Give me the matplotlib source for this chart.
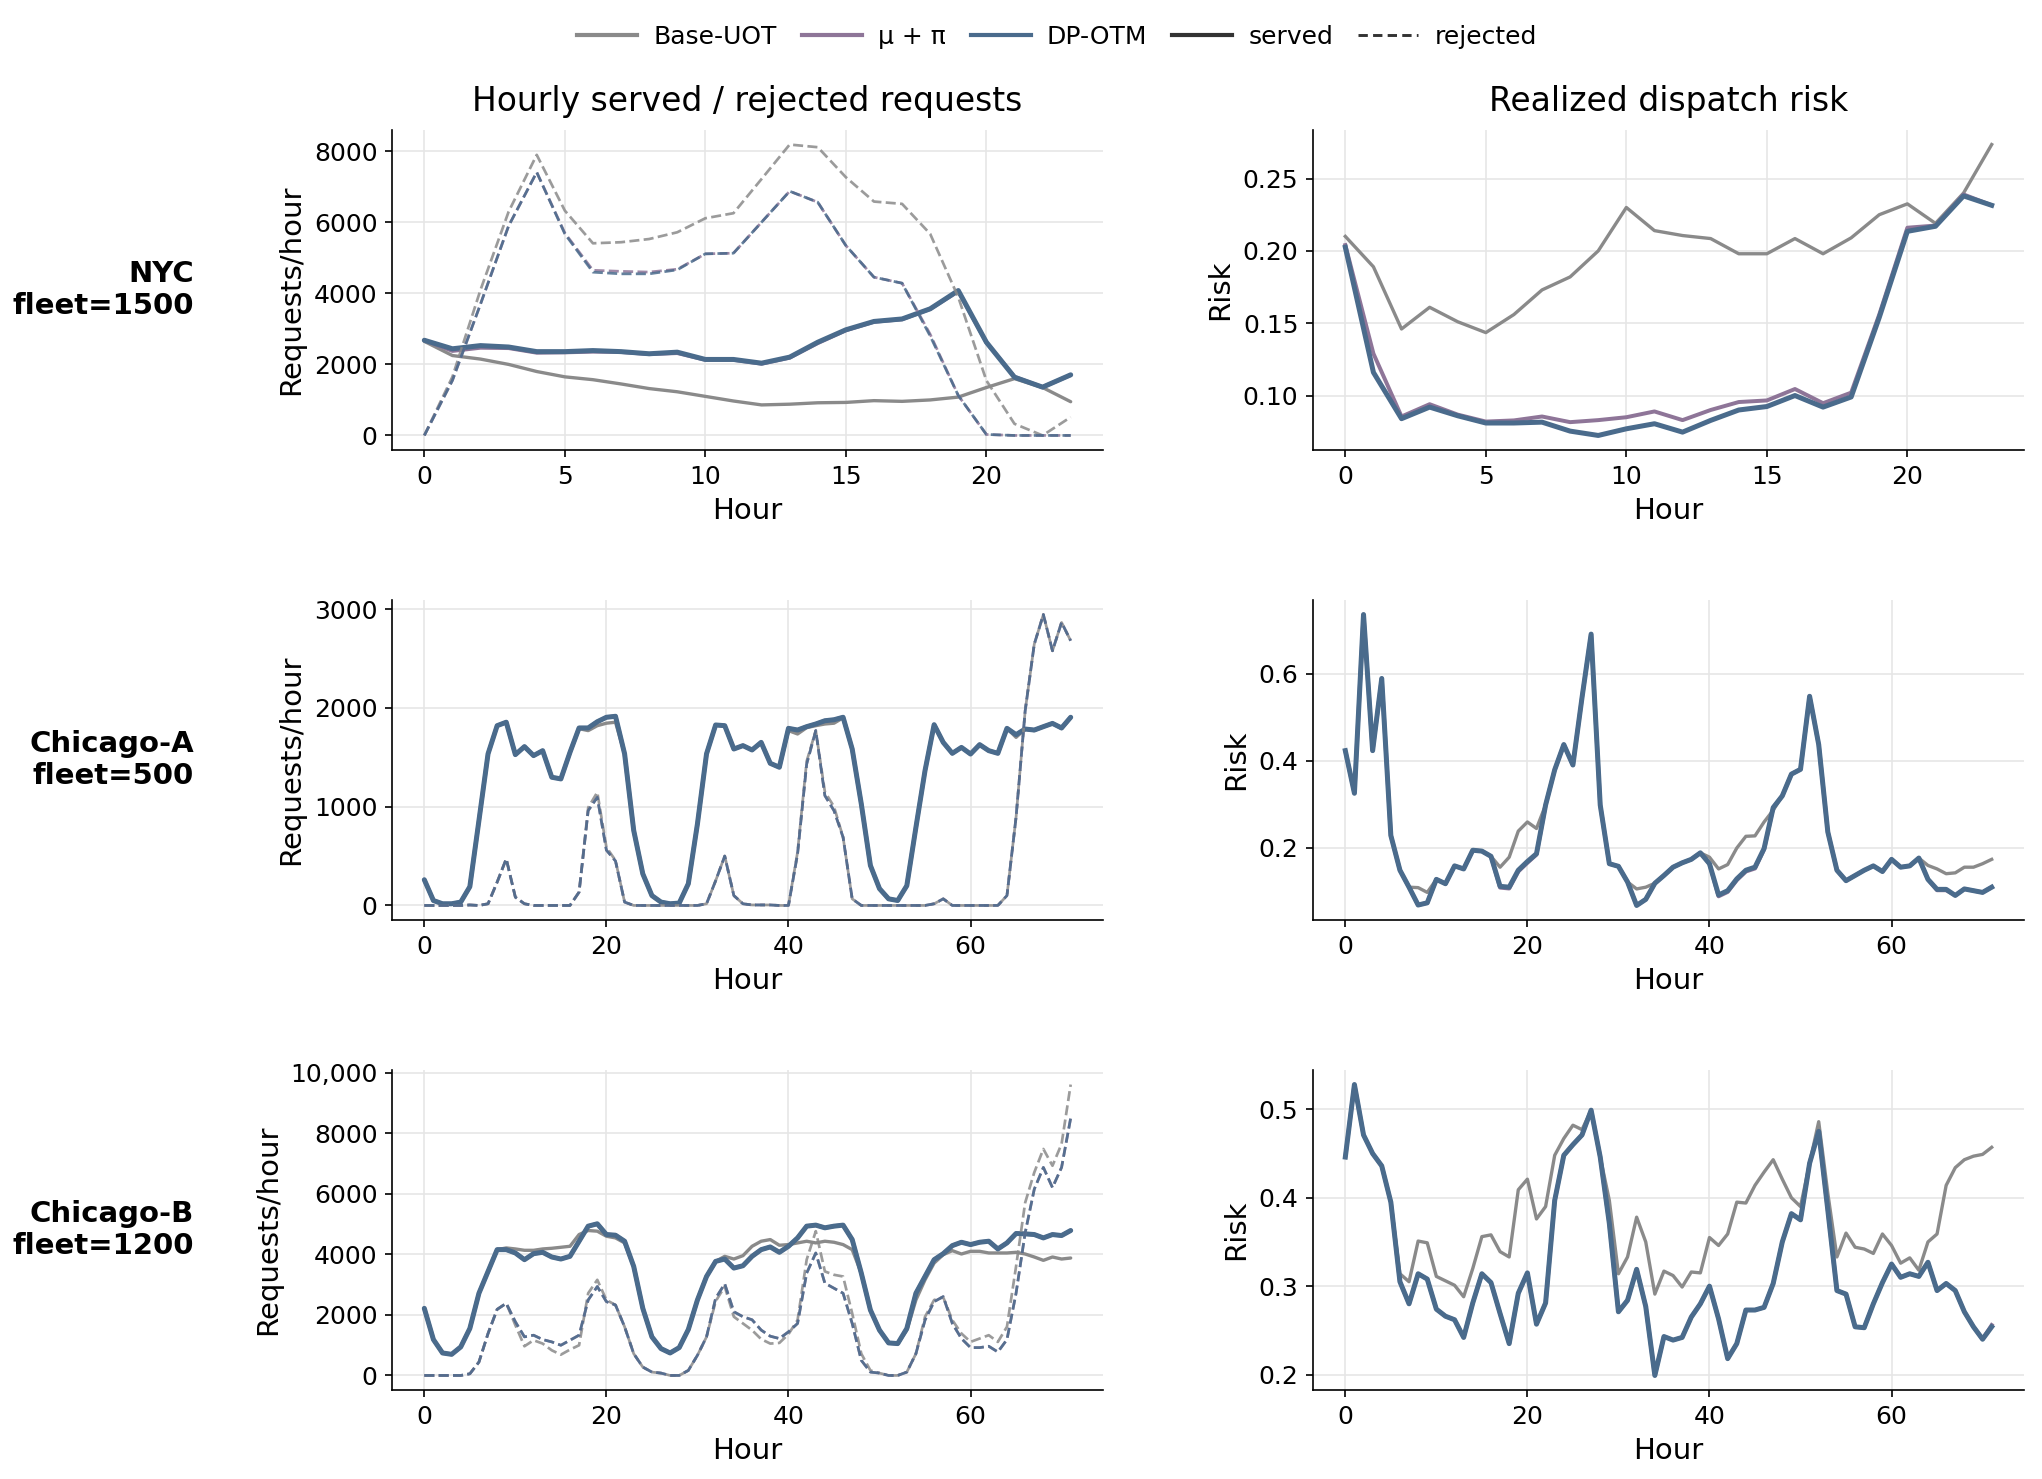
import matplotlib
matplotlib.use("Agg")
import matplotlib.pyplot as plt
from matplotlib.lines import Line2D
from matplotlib.ticker import FuncFormatter, MultipleLocator

# ---------------- data ----------------
methods = ["Base-UOT", "μ + π", "DP-OTM"]
colors = {"Base-UOT": "#8a8a8a", "μ + π": "#8e7598", "DP-OTM": "#4a6b8c"}

row_labels = ["NYC\nfleet=1500", "Chicago-A\nfleet=500", "Chicago-B\nfleet=1200"]
col_titles = ["Hourly served / rejected requests", "Realized dispatch risk"]

hours_nyc = list(range(24))
hours_chi = list(range(72))

# NYC
nyc_base_served = [2650, 2250, 2150, 2000, 1800, 1650, 1570, 1450, 1320, 1230, 1100, 970,
                   860, 880, 920, 930, 980, 960, 1000, 1080, 1350, 1600, 1350, 950]
nyc_mu_served = [2680, 2380, 2470, 2460, 2330, 2340, 2360, 2350, 2290, 2320, 2130, 2130,
                 2020, 2190, 2600, 2960, 3200, 3270, 3560, 4060, 2620, 1650, 1360, 1700]
nyc_dp_served = [2680, 2440, 2530, 2490, 2360, 2360, 2390, 2360, 2300, 2345, 2140, 2140,
                 2035, 2205, 2625, 2975, 3210, 3280, 3565, 4080, 2625, 1640, 1360, 1707]
nyc_base_rej = [0, 1650, 4100, 6300, 7900, 6330, 5410, 5440, 5530, 5720, 6115, 6257,
                7220, 8190, 8115, 7270, 6585, 6520, 5675, 3893, 1548, 328, 0, 516]
nyc_mu_rej = [0, 1550, 3700, 5900, 7410, 5700, 4650, 4620, 4600, 4680, 5113, 5131,
              6004, 6876, 6567, 5347, 4456, 4287, 2850, 1126, 28, 0, 0, 0]
nyc_dp_rej = [0, 1550, 3700, 5900, 7410, 5675, 4597, 4550, 4550, 4662, 5113, 5131,
              6004, 6876, 6567, 5347, 4456, 4287, 2800, 1126, 28, 0, 0, 0]
nyc_base_risk = [0.210, 0.189, 0.146, 0.161, 0.151, 0.1435, 0.156, 0.173, 0.182, 0.200, 0.230, 0.214,
                 0.2106, 0.2085, 0.198, 0.198, 0.2085, 0.198, 0.209, 0.225, 0.2325, 0.219, 0.240, 0.2735]
nyc_mu_risk = [0.204, 0.129, 0.0855, 0.094, 0.0868, 0.082, 0.0828, 0.0855, 0.0816, 0.083, 0.085, 0.089,
               0.083, 0.090, 0.0955, 0.0966, 0.1045, 0.0947, 0.102, 0.156, 0.216, 0.2175, 0.239, 0.2315]
nyc_dp_risk = [0.2025, 0.116, 0.084, 0.092, 0.086, 0.081, 0.081, 0.0816, 0.0754, 0.0724, 0.077, 0.0805,
               0.0747, 0.0828, 0.090, 0.0924, 0.100, 0.092, 0.099, 0.154, 0.2135, 0.217, 0.238, 0.2315]

# Chicago-A
chia_base_served = [260, 50, 17, 17, 34, 190, 860, 1535, 1820, 1855,
                    1527, 1608, 1517, 1567, 1298, 1281, 1550, 1790, 1770, 1820,
                    1845, 1855, 1535, 760, 320, 100, 34, 17, 24, 220,
                    825, 1535, 1827, 1820, 1584, 1618, 1574, 1651, 1439, 1399,
                    1770, 1736, 1800, 1820, 1837, 1845, 1900, 1584, 1028, 405,
                    170, 67, 50, 200, 790, 1365, 1830, 1651, 1540, 1600,
                    1533, 1628, 1567, 1540, 1793, 1702, 1786, 1770, 1810, 1843,
                    1790, 1900]
chia_mu_served = [260, 50, 17, 17, 34, 190, 860, 1535, 1820, 1855,
                  1527, 1608, 1517, 1567, 1298, 1281, 1550, 1797, 1797, 1860,
                  1905, 1915, 1535, 760, 320, 100, 34, 17, 24, 220,
                  825, 1535, 1827, 1820, 1584, 1618, 1574, 1651, 1439, 1399,
                  1793, 1776, 1810, 1837, 1870, 1880, 1905, 1584, 1028, 405,
                  170, 67, 50, 200, 790, 1365, 1830, 1651, 1540, 1600,
                  1533, 1628, 1567, 1540, 1793, 1729, 1786, 1776, 1810, 1843,
                  1797, 1905]
chia_dp_served = [260, 50, 17, 17, 34, 190, 860, 1535, 1820, 1855,
                  1527, 1608, 1517, 1567, 1298, 1281, 1550, 1797, 1797, 1860,
                  1905, 1915, 1535, 760, 320, 100, 34, 17, 24, 220,
                  825, 1535, 1827, 1820, 1584, 1618, 1574, 1651, 1439, 1399,
                  1793, 1776, 1810, 1837, 1870, 1880, 1905, 1584, 1028, 405,
                  170, 67, 50, 200, 790, 1365, 1830, 1651, 1540, 1600,
                  1533, 1628, 1567, 1540, 1793, 1729, 1786, 1776, 1810, 1843,
                  1797, 1905]
chia_base_rej = [0, 0, 0, 0, 0, 5, 0, 17, 236, 472,
                 84, 17, 0, 0, 0, 0, 0, 135, 990, 1146,
                 590, 455, 34, 0, 0, 0, 0, 0, 0, 0,
                 0, 17, 250, 500, 100, 17, 5, 5, 5, 0,
                 0, 540, 1460, 1770, 1150, 1000, 690, 67, 0, 0,
                 0, 0, 0, 0, 0, 0, 17, 67, 0, 0,
                 0, 0, 0, 0, 100, 893, 1970, 2645, 2945, 2578,
                 2865, 2680]
chia_mu_rej = [0, 0, 0, 0, 0, 5, 0, 17, 236, 472,
               84, 17, 0, 0, 0, 0, 0, 135, 960, 1095,
               560, 450, 34, 0, 0, 0, 0, 0, 0, 0,
               0, 17, 250, 500, 100, 17, 5, 5, 5, 0,
               0, 522, 1432, 1770, 1112, 960, 690, 67, 0, 0,
               0, 0, 0, 0, 0, 0, 17, 67, 0, 0,
               0, 0, 0, 0, 100, 893, 1970, 2645, 2945, 2578,
               2865, 2680]
chia_dp_rej = [0, 0, 0, 0, 0, 5, 0, 17, 236, 472,
               84, 17, 0, 0, 0, 0, 0, 135, 960, 1095,
               560, 450, 34, 0, 0, 0, 0, 0, 0, 0,
               0, 17, 250, 500, 100, 17, 5, 5, 5, 0,
               0, 522, 1432, 1770, 1112, 960, 690, 67, 0, 0,
               0, 0, 0, 0, 0, 0, 17, 67, 0, 0,
               0, 0, 0, 0, 100, 893, 1970, 2645, 2945, 2578,
               2865, 2680]
chia_base_risk = [0.423, 0.325, 0.736, 0.423, 0.589, 0.228, 0.148, 0.109, 0.108, 0.097,
                  0.127, 0.117, 0.158, 0.151, 0.194, 0.192, 0.180, 0.155, 0.178, 0.238,
                  0.259, 0.244, 0.298, 0.379, 0.437, 0.390, 0.545, 0.691, 0.298, 0.163,
                  0.157, 0.121, 0.105, 0.109, 0.118, 0.136, 0.155, 0.165, 0.173, 0.188,
                  0.178, 0.151, 0.161, 0.199, 0.226, 0.227, 0.259, 0.286, 0.319, 0.369,
                  0.380, 0.548, 0.437, 0.236, 0.148, 0.124, 0.136, 0.148, 0.158, 0.145,
                  0.173, 0.155, 0.158, 0.176, 0.159, 0.151, 0.140, 0.142, 0.155, 0.155,
                  0.163, 0.173]
chia_mu_risk = [0.423, 0.325, 0.736, 0.423, 0.589, 0.228, 0.148, 0.109, 0.068, 0.073,
                0.127, 0.117, 0.158, 0.151, 0.194, 0.192, 0.180, 0.108, 0.106, 0.145,
                0.165, 0.184, 0.298, 0.379, 0.437, 0.390, 0.545, 0.691, 0.298, 0.163,
                0.157, 0.121, 0.067, 0.081, 0.118, 0.136, 0.155, 0.165, 0.173, 0.188,
                0.163, 0.088, 0.098, 0.125, 0.145, 0.152, 0.196, 0.292, 0.319, 0.369,
                0.380, 0.548, 0.437, 0.236, 0.148, 0.124, 0.136, 0.148, 0.158, 0.145,
                0.173, 0.155, 0.158, 0.176, 0.127, 0.102, 0.102, 0.090, 0.105, 0.101,
                0.097, 0.109]
chia_dp_risk = [0.423, 0.325, 0.736, 0.423, 0.589, 0.228, 0.148, 0.109, 0.068, 0.073,
                0.127, 0.117, 0.158, 0.151, 0.194, 0.192, 0.180, 0.111, 0.109, 0.148,
                0.168, 0.186, 0.298, 0.379, 0.437, 0.390, 0.545, 0.691, 0.298, 0.163,
                0.157, 0.121, 0.067, 0.081, 0.118, 0.136, 0.155, 0.165, 0.173, 0.188,
                0.163, 0.091, 0.101, 0.128, 0.148, 0.155, 0.198, 0.292, 0.319, 0.369,
                0.380, 0.548, 0.437, 0.236, 0.148, 0.124, 0.136, 0.148, 0.158, 0.145,
                0.173, 0.155, 0.158, 0.176, 0.127, 0.104, 0.104, 0.090, 0.105, 0.101,
                0.097, 0.109]

# Chicago-B
chib_base_served = [2217, 1186, 743, 698, 942, 1552, 2716, 3437, 4157, 4213,
                    4180, 4135, 4135, 4180, 4202, 4235, 4268, 4656, 4789, 4767,
                    4600, 4545, 4379, 3603, 2217, 1275, 887, 743, 920, 1519,
                    2494, 3270, 3769, 3936, 3847, 3958, 4268, 4435, 4490, 4302,
                    4324, 4379, 4435, 4379, 4435, 4401, 4324, 4157, 3381, 2162,
                    1497, 1075, 1053, 1497, 2494, 3160, 3714, 3991, 4124, 4013,
                    4102, 4102, 4047, 4047, 4047, 4069, 4013, 3914, 3803, 3914,
                    3847, 3880]
chib_mu_served = [2217, 1186, 743, 698, 942, 1552, 2716, 3437, 4157, 4157,
                  4047, 3825, 4024, 4069, 3914, 3847, 3936, 4435, 4933, 5011,
                  4656, 4634, 4435, 3603, 2217, 1275, 887, 743, 920, 1519,
                  2494, 3270, 3769, 3847, 3548, 3625, 3936, 4157, 4246, 4069,
                  4268, 4545, 4933, 4967, 4878, 4933, 4967, 4490, 3381, 2162,
                  1497, 1075, 1053, 1552, 2716, 3270, 3825, 4024, 4290, 4401,
                  4324, 4401, 4435, 4180, 4379, 4690, 4678, 4656, 4545, 4656,
                  4623, 4789]
chib_dp_served = [2217, 1186, 743, 698, 942, 1552, 2716, 3437, 4157, 4157,
                  4047, 3825, 4024, 4069, 3914, 3847, 3936, 4435, 4933, 5011,
                  4656, 4634, 4435, 3603, 2217, 1275, 887, 743, 920, 1519,
                  2494, 3270, 3769, 3847, 3548, 3625, 3936, 4157, 4246, 4069,
                  4268, 4545, 4933, 4967, 4878, 4933, 4967, 4490, 3381, 2162,
                  1497, 1075, 1053, 1552, 2716, 3270, 3825, 4024, 4290, 4401,
                  4324, 4401, 4435, 4180, 4379, 4690, 4678, 4656, 4545, 4656,
                  4623, 4789]
chib_base_rej = [0, 0, 0, 0, 0, 55, 443, 1386, 2184, 2384,
                 1663, 965, 1164, 1053, 831, 687, 854, 998, 2716, 3160,
                 2494, 2328, 1608, 720, 277, 111, 78, 0, 0, 166,
                 665, 1275, 2450, 2938, 1940, 1718, 1497, 1200, 1053, 1075,
                 1364, 1829, 3825, 4767, 3437, 3326, 3270, 2051, 720, 166,
                 78, 0, 0, 111, 720, 1940, 2494, 2583, 1829, 1386,
                 1109, 1220, 1330, 1109, 1608, 3603, 5709, 6707, 7483, 6929,
                 7650, 9612]
chib_mu_rej = [0, 0, 0, 0, 0, 55, 443, 1386, 2184, 2384,
               1774, 1275, 1330, 1186, 1109, 998, 1164, 1330, 2494, 2938,
               2439, 2328, 1608, 720, 277, 111, 78, 0, 0, 166,
               665, 1275, 2550, 3027, 2106, 1940, 1840, 1500, 1297, 1220,
               1441, 1718, 3381, 4047, 3049, 2882, 2716, 1718, 499, 111,
               78, 0, 0, 111, 720, 1829, 2439, 2605, 1718, 1220,
               920, 920, 965, 776, 1186, 2716, 4712, 6153, 6874, 6208,
               6874, 8503]
chib_dp_rej = [0, 0, 0, 0, 0, 55, 443, 1386, 2184, 2384,
               1774, 1275, 1330, 1186, 1109, 998, 1164, 1330, 2494, 2938,
               2439, 2328, 1608, 720, 277, 111, 78, 0, 0, 166,
               665, 1275, 2550, 3027, 2106, 1940, 1840, 1500, 1297, 1220,
               1441, 1718, 3381, 4047, 3049, 2882, 2716, 1718, 499, 111,
               78, 0, 0, 111, 720, 1829, 2439, 2605, 1718, 1220,
               920, 920, 965, 776, 1186, 2716, 4712, 6153, 6874, 6208,
               6874, 8503]
chib_base_risk = [0.446, 0.528, 0.471, 0.450, 0.436, 0.395, 0.314, 0.305, 0.351, 0.349,
                  0.311, 0.306, 0.301, 0.288, 0.320, 0.356, 0.358, 0.339, 0.333, 0.409,
                  0.421, 0.376, 0.390, 0.448, 0.467, 0.482, 0.477, 0.499, 0.446, 0.397,
                  0.314, 0.333, 0.378, 0.350, 0.291, 0.317, 0.312, 0.299, 0.316, 0.315,
                  0.355, 0.346, 0.359, 0.395, 0.394, 0.414, 0.429, 0.443, 0.421, 0.400,
                  0.390, 0.439, 0.486, 0.405, 0.333, 0.360, 0.344, 0.342, 0.337, 0.359,
                  0.346, 0.326, 0.332, 0.318, 0.350, 0.359, 0.414, 0.434, 0.443, 0.447,
                  0.449, 0.457]
chib_mu_risk = [0.446, 0.528, 0.471, 0.450, 0.436, 0.395, 0.305, 0.280, 0.314, 0.308,
                0.274, 0.266, 0.262, 0.242, 0.281, 0.314, 0.304, 0.269, 0.235, 0.292,
                0.315, 0.257, 0.281, 0.397, 0.448, 0.460, 0.471, 0.499, 0.446, 0.371,
                0.271, 0.284, 0.319, 0.277, 0.199, 0.243, 0.239, 0.242, 0.265, 0.280,
                0.300, 0.263, 0.218, 0.235, 0.273, 0.273, 0.276, 0.303, 0.350, 0.382,
                0.375, 0.439, 0.475, 0.386, 0.295, 0.291, 0.254, 0.253, 0.280, 0.304,
                0.325, 0.310, 0.314, 0.311, 0.327, 0.295, 0.303, 0.295, 0.271, 0.254,
                0.240, 0.256]
chib_dp_risk = [0.446, 0.528, 0.471, 0.450, 0.436, 0.395, 0.305, 0.280, 0.314, 0.308,
                0.274, 0.266, 0.262, 0.242, 0.281, 0.314, 0.304, 0.269, 0.235, 0.292,
                0.315, 0.257, 0.281, 0.397, 0.448, 0.460, 0.471, 0.499, 0.446, 0.371,
                0.271, 0.284, 0.319, 0.277, 0.199, 0.243, 0.239, 0.242, 0.265, 0.280,
                0.300, 0.263, 0.218, 0.235, 0.273, 0.273, 0.276, 0.303, 0.350, 0.382,
                0.375, 0.439, 0.475, 0.386, 0.295, 0.291, 0.254, 0.253, 0.280, 0.304,
                0.325, 0.310, 0.314, 0.311, 0.327, 0.295, 0.303, 0.295, 0.271, 0.254,
                0.240, 0.254]

rows = [
    (hours_nyc,
     {"Base-UOT": nyc_base_served, "μ + π": nyc_mu_served, "DP-OTM": nyc_dp_served},
     {"Base-UOT": nyc_base_rej, "μ + π": nyc_mu_rej, "DP-OTM": nyc_dp_rej},
     {"Base-UOT": nyc_base_risk, "μ + π": nyc_mu_risk, "DP-OTM": nyc_dp_risk}),
    (hours_chi,
     {"Base-UOT": chia_base_served, "μ + π": chia_mu_served, "DP-OTM": chia_dp_served},
     {"Base-UOT": chia_base_rej, "μ + π": chia_mu_rej, "DP-OTM": chia_dp_rej},
     {"Base-UOT": chia_base_risk, "μ + π": chia_mu_risk, "DP-OTM": chia_dp_risk}),
    (hours_chi,
     {"Base-UOT": chib_base_served, "μ + π": chib_mu_served, "DP-OTM": chib_dp_served},
     {"Base-UOT": chib_base_rej, "μ + π": chib_mu_rej, "DP-OTM": chib_dp_rej},
     {"Base-UOT": chib_base_risk, "μ + π": chib_mu_risk, "DP-OTM": chib_dp_risk}),
]

# ---------------- style ----------------
W, H = 2043, 1479
DPI = 150
plt.rcParams["font.family"] = ["DejaVu Sans"]
fig = plt.figure(figsize=(W / DPI, H / DPI), dpi=DPI)

lw_served = {"Base-UOT": 1.6, "μ + π": 1.9, "DP-OTM": 2.4}
lw_rej = 1.3

col_x = [(392, 1103), (1313, 2024)]
row_y = [(130, 450), (600, 920), (1070, 1390)]


def served_fmt(v, p):
    return f"{v:,.0f}" if abs(v) >= 10000 else f"{v:.0f}"


for r, (hrs, served, rej, risk) in enumerate(rows):
    y0, y1 = row_y[r]
    for c in range(2):
        x0, x1 = col_x[c]
        ax = fig.add_axes([x0 / W, 1 - y1 / H, (x1 - x0) / W, (y1 - y0) / H])
        ax.spines["top"].set_visible(False)
        ax.spines["right"].set_visible(False)
        ax.grid(True, color="#e6e6e6", lw=0.8)
        ax.set_axisbelow(True)
        ax.tick_params(labelsize=12)
        if c == 0:
            for m in methods:
                ax.plot(hrs, served[m], color=colors[m], lw=lw_served[m], solid_capstyle="round")
            for m in methods:
                ax.plot(hrs, rej[m], color=colors[m], lw=lw_rej, ls="--", alpha=0.85)
            ax.set_ylabel("Requests/hour", fontsize=14)
            ax.yaxis.set_major_formatter(FuncFormatter(served_fmt))
        else:
            for m in methods:
                ax.plot(hrs, risk[m], color=colors[m], lw=lw_served[m])
            ax.set_ylabel("Risk", fontsize=14)
        ax.set_xlabel("Hour", fontsize=14, labelpad=4)
        if r == 0:
            ax.xaxis.set_major_locator(MultipleLocator(5))
        else:
            ax.xaxis.set_major_locator(MultipleLocator(20))
        if r == 0 and c == 0:
            ax.yaxis.set_major_locator(MultipleLocator(2000))
        if r == 1 and c == 0:
            ax.yaxis.set_major_locator(MultipleLocator(1000))
        if r == 2 and c == 0:
            ax.yaxis.set_major_locator(MultipleLocator(2000))
        if r == 0 and c == 1:
            ax.yaxis.set_major_locator(MultipleLocator(0.05))
            ax.yaxis.set_major_formatter(FuncFormatter(lambda v, p: f"{v:.2f}"))
        if r == 1 and c == 1:
            ax.yaxis.set_major_locator(MultipleLocator(0.2))
            ax.yaxis.set_major_formatter(FuncFormatter(lambda v, p: f"{v:.1f}"))
        if r == 2 and c == 1:
            ax.yaxis.set_major_locator(MultipleLocator(0.1))
            ax.yaxis.set_major_formatter(FuncFormatter(lambda v, p: f"{v:.1f}"))

    fig.text(194 / W, 1 - ((y0 + y1) / 2) / H, row_labels[r], ha="right", va="center",
             multialignment="right", fontsize=14, fontweight="bold")

for c in range(2):
    x0, x1 = col_x[c]
    fig.text((x0 + x1) / 2 / W, 1 - 102 / H, col_titles[c], ha="center", va="center", fontsize=15.8)

handles = [Line2D([], [], color=colors[m], lw=2) for m in methods]
handles += [Line2D([], [], color="#333333", lw=2, ls="-"),
            Line2D([], [], color="#333333", lw=1.4, ls=(0, (3.2, 1.8)))]
labels = methods + ["served", "rejected"]
fig.legend(handles, labels, loc="center", bbox_to_anchor=(1057 / W, 1 - 37 / H), ncol=5,
           frameon=False, fontsize=12, handlelength=2.4, columnspacing=1.0, handletextpad=0.65)

fig.savefig("out.png", dpi=DPI)
